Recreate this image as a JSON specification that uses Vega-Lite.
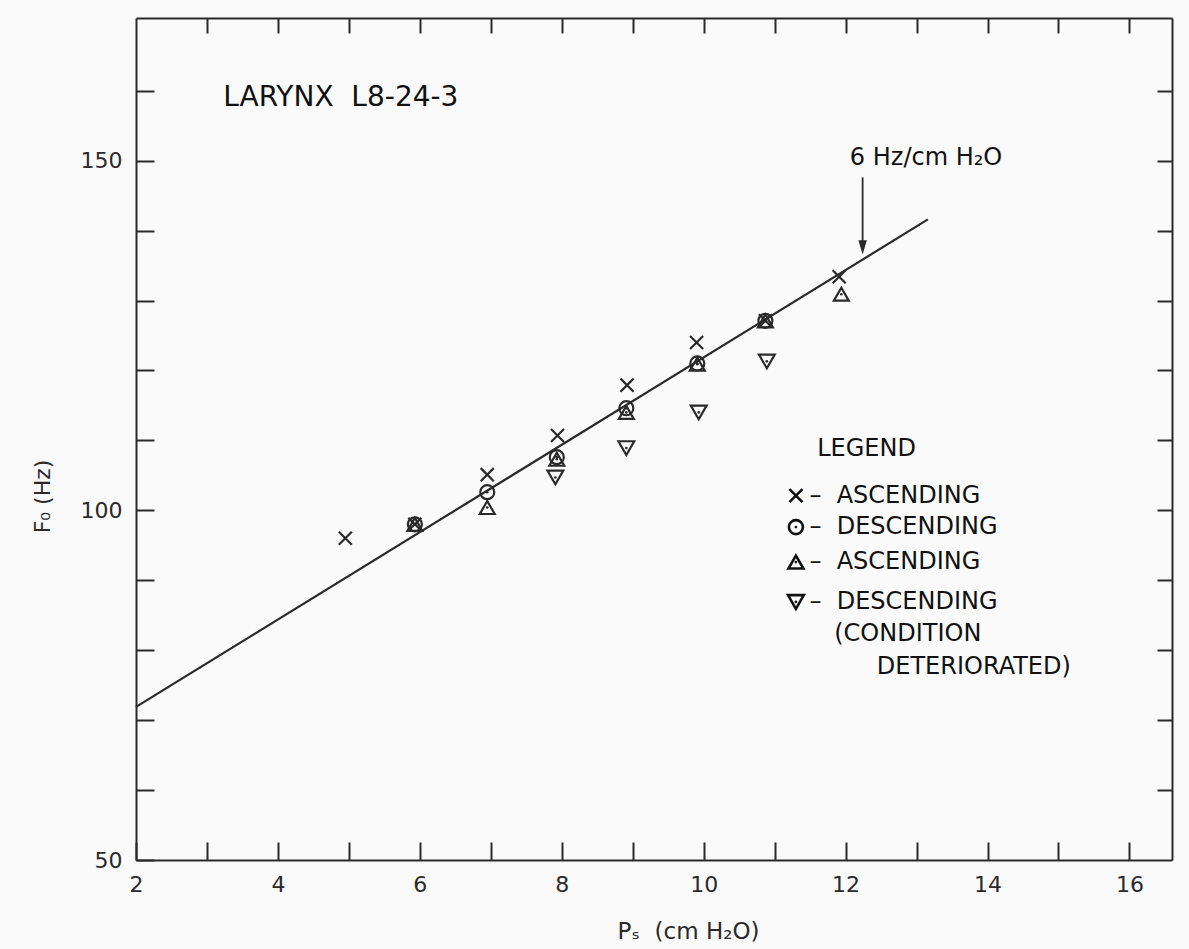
{
  "$schema": "https://vega.github.io/schema/vega-lite/v6.json",
  "width": 1036,
  "height": 842,
  "autosize": "none",
  "padding": {"left": 136, "top": 18, "right": 17, "bottom": 89},
  "background": "#fafafa",
  "config": {
    "view": {"stroke": null},
    "font": "DejaVu Sans",
    "axis": {
      "grid": false,
      "domainColor": "#2a2a2a",
      "domainWidth": 2,
      "tickColor": "#2a2a2a",
      "tickWidth": 2,
      "labelColor": "#2a2a2a",
      "labelFontSize": 22,
      "labelFont": "DejaVu Sans",
      "titleFont": "DejaVu Sans",
      "titleFontWeight": "normal",
      "titleColor": "#2a2a2a",
      "titleFontSize": 22
    }
  },
  "datasets": {
    "points": [
      {"p": 4.95, "f": 96.0, "type": "asc"},
      {"p": 5.93, "f": 98.0, "type": "asc"},
      {"p": 6.95, "f": 105.1, "type": "asc"},
      {"p": 7.94, "f": 110.7, "type": "asc"},
      {"p": 8.92, "f": 117.9, "type": "asc"},
      {"p": 9.9, "f": 124.0, "type": "asc"},
      {"p": 10.87, "f": 127.1, "type": "asc"},
      {"p": 11.91, "f": 133.4, "type": "asc"},
      {"p": 5.93, "f": 98.0, "type": "desc"},
      {"p": 6.95, "f": 102.6, "type": "desc"},
      {"p": 7.93, "f": 107.6, "type": "desc"},
      {"p": 8.91, "f": 114.6, "type": "desc"},
      {"p": 9.91, "f": 121.0, "type": "desc"},
      {"p": 10.87, "f": 127.1, "type": "desc"},
      {"p": 5.93, "f": 98.0, "type": "asc2"},
      {"p": 6.95, "f": 100.4, "type": "asc2"},
      {"p": 7.93, "f": 107.3, "type": "asc2"},
      {"p": 8.91, "f": 114.0, "type": "asc2"},
      {"p": 9.91, "f": 120.9, "type": "asc2"},
      {"p": 10.87, "f": 127.1, "type": "asc2"},
      {"p": 11.94, "f": 130.9, "type": "asc2"},
      {"p": 7.91, "f": 104.7, "type": "desc2"},
      {"p": 8.91, "f": 108.9, "type": "desc2"},
      {"p": 9.93, "f": 114.0, "type": "desc2"},
      {"p": 10.89, "f": 121.3, "type": "desc2"}
    ],
    "legendSymbols": [
      {"p": 11.3, "f": 102.1, "type": "asc"},
      {"p": 11.3, "f": 97.6, "type": "desc"},
      {"p": 11.3, "f": 92.6, "type": "asc2"},
      {"p": 11.3, "f": 86.9, "type": "desc2"}
    ],
    "fit": [
      {"p": 2, "f": 71.9},
      {"p": 13.16, "f": 141.6}
    ],
    "arrow": [
      {"p": 12.24, "f": 147.6, "f2": 138.5, "tip": 137.6}
    ],
    "titleText": [
      {"p": 3.23, "f": 159.0, "text": "LARYNX\u00a0\u00a0L8-24-3"}
    ],
    "notes": [
      {"p": 12.06, "f": 150.4, "text": "6 Hz/cm H₂O"},
      {"p": 11.6, "f": 108.7, "text": "LEGEND"},
      {"p": 11.49, "f": 102.1, "text": "–\u00a0\u00a0ASCENDING"},
      {"p": 11.49, "f": 97.6, "text": "–\u00a0\u00a0DESCENDING"},
      {"p": 11.49, "f": 92.6, "text": "–\u00a0\u00a0ASCENDING"},
      {"p": 11.49, "f": 86.9, "text": "–\u00a0\u00a0DESCENDING"},
      {"p": 11.84, "f": 82.3, "text": "(CONDITION"},
      {"p": 12.44, "f": 77.6, "text": "DETERIORATED)"}
    ]
  },
  "layer": [
    {
      "layer": [
        {
          "data": {"name": "fit"},
          "mark": {"type": "line", "color": "#2a2a2a", "strokeWidth": 2.2},
          "encoding": {
            "x": {
              "field": "p", "type": "quantitative",
              "scale": {"domain": [2, 16.6], "nice": false, "zero": false},
              "axis": {
                "orient": "bottom",
                "values": [2, 3, 4, 5, 6, 7, 8, 9, 10, 11, 12, 13, 14, 15, 16],
                "format": "d",
                "labelExpr": "datum.value % 2 === 0 ? datum.label : ''",
                "tickSize": -18,
                "labelPadding": 32,
                "labelFlush": false,
                "labelOverlap": false,
                "title": "Pₛ\u00a0\u00a0(cm H₂O)",
                "titleX": 552,
                "titleY": 60,
                "titleFontSize": 23
              }
            },
            "y": {
              "field": "f", "type": "quantitative",
              "scale": {"domain": [50, 170.4], "nice": false, "zero": false},
              "axis": {
                "orient": "left",
                "values": [50, 60, 70, 80, 90, 100, 110, 120, 130, 140, 150, 160],
                "format": "d",
                "labelExpr": "datum.value % 50 === 0 ? datum.label : ''",
                "tickSize": -18,
                "labelPadding": 32,
                "labelFlush": false,
                "labelOverlap": false,
                "title": "F₀ (Hz)",
                "titleY": 478,
                "titlePadding": 26
              }
            }
          }
        },
        {
          "data": {"name": "points"},
          "mark": {"type": "point", "filled": false, "strokeWidth": 2.2, "color": "#2a2a2a", "opacity": 1},
          "encoding": {
            "x": {"field": "p", "type": "quantitative"},
            "y": {"field": "f", "type": "quantitative"},
            "shape": {
              "field": "type", "type": "nominal", "legend": null,
              "scale": {
                "domain": ["asc", "desc", "asc2", "desc2"],
                "range": ["M-1,-1L1,1M-1,1L1,-1", "circle", "triangle-up", "triangle-down"]
              }
            },
            "size": {
              "field": "type", "type": "nominal", "legend": null,
              "scale": {
                "domain": ["asc", "desc", "asc2", "desc2"],
                "range": [170, 250, 150, 170]
              }
            }
          }
        },
        {
          "data": {"name": "points"},
          "transform": [{"filter": "datum.type !== 'asc'"}],
          "mark": {"type": "circle", "color": "#2a2a2a", "size": 7, "opacity": 1},
          "encoding": {
            "x": {"field": "p", "type": "quantitative"},
            "y": {"field": "f", "type": "quantitative"}
          }
        },
        {
          "data": {"name": "legendSymbols"},
          "mark": {"type": "point", "filled": false, "strokeWidth": 2.6, "color": "#111", "opacity": 1},
          "encoding": {
            "x": {"field": "p", "type": "quantitative"},
            "y": {"field": "f", "type": "quantitative"},
            "shape": {"field": "type", "type": "nominal", "legend": null},
            "size": {"field": "type", "type": "nominal", "legend": null}
          }
        },
        {
          "data": {"name": "legendSymbols"},
          "transform": [{"filter": "datum.type !== 'asc'"}],
          "mark": {"type": "circle", "color": "#111", "size": 7, "opacity": 1},
          "encoding": {
            "x": {"field": "p", "type": "quantitative"},
            "y": {"field": "f", "type": "quantitative"}
          }
        },
        {
          "data": {"name": "arrow"},
          "mark": {"type": "rule", "color": "#2a2a2a", "strokeWidth": 1.8},
          "encoding": {
            "x": {"field": "p", "type": "quantitative"},
            "y": {"field": "f", "type": "quantitative"},
            "y2": {"field": "f2"}
          }
        },
        {
          "data": {"name": "arrow"},
          "mark": {"type": "point", "shape": "M-0.6,-1L0.6,-1L0,1Z", "filled": true, "color": "#2a2a2a", "size": 200, "opacity": 1},
          "encoding": {
            "x": {"field": "p", "type": "quantitative"},
            "y": {"field": "tip", "type": "quantitative"}
          }
        },
        {
          "data": {"name": "titleText"},
          "mark": {"type": "text", "align": "left", "baseline": "middle", "fontSize": 28, "color": "#111", "font": "DejaVu Sans"},
          "encoding": {
            "x": {"field": "p", "type": "quantitative"},
            "y": {"field": "f", "type": "quantitative"},
            "text": {"field": "text"}
          }
        },
        {
          "data": {"name": "notes"},
          "mark": {"type": "text", "align": "left", "baseline": "middle", "fontSize": 24, "color": "#111", "font": "DejaVu Sans"},
          "encoding": {
            "x": {"field": "p", "type": "quantitative"},
            "y": {"field": "f", "type": "quantitative"},
            "text": {"field": "text"}
          }
        }
      ]
    },
    {
      "data": {"name": "fit"},
      "mark": {"type": "point", "opacity": 0},
      "encoding": {
        "x": {
          "field": "p", "type": "quantitative",
          "scale": {"domain": [2, 16.6], "nice": false, "zero": false},
          "axis": {
            "orient": "top",
            "values": [3, 4, 5, 6, 7, 8, 9, 10, 11, 12, 13, 14, 15, 16],
            "labels": false,
            "tickSize": -15,
            "title": null
          }
        },
        "y": {
          "field": "f", "type": "quantitative",
          "scale": {"domain": [50, 170.4], "nice": false, "zero": false},
          "axis": {
            "orient": "right",
            "values": [60, 70, 80, 90, 100, 110, 120, 130, 140, 150, 160],
            "labels": false,
            "tickSize": -15,
            "title": null
          }
        }
      }
    }
  ],
  "resolve": {"axis": {"x": "independent", "y": "independent"}}
}
